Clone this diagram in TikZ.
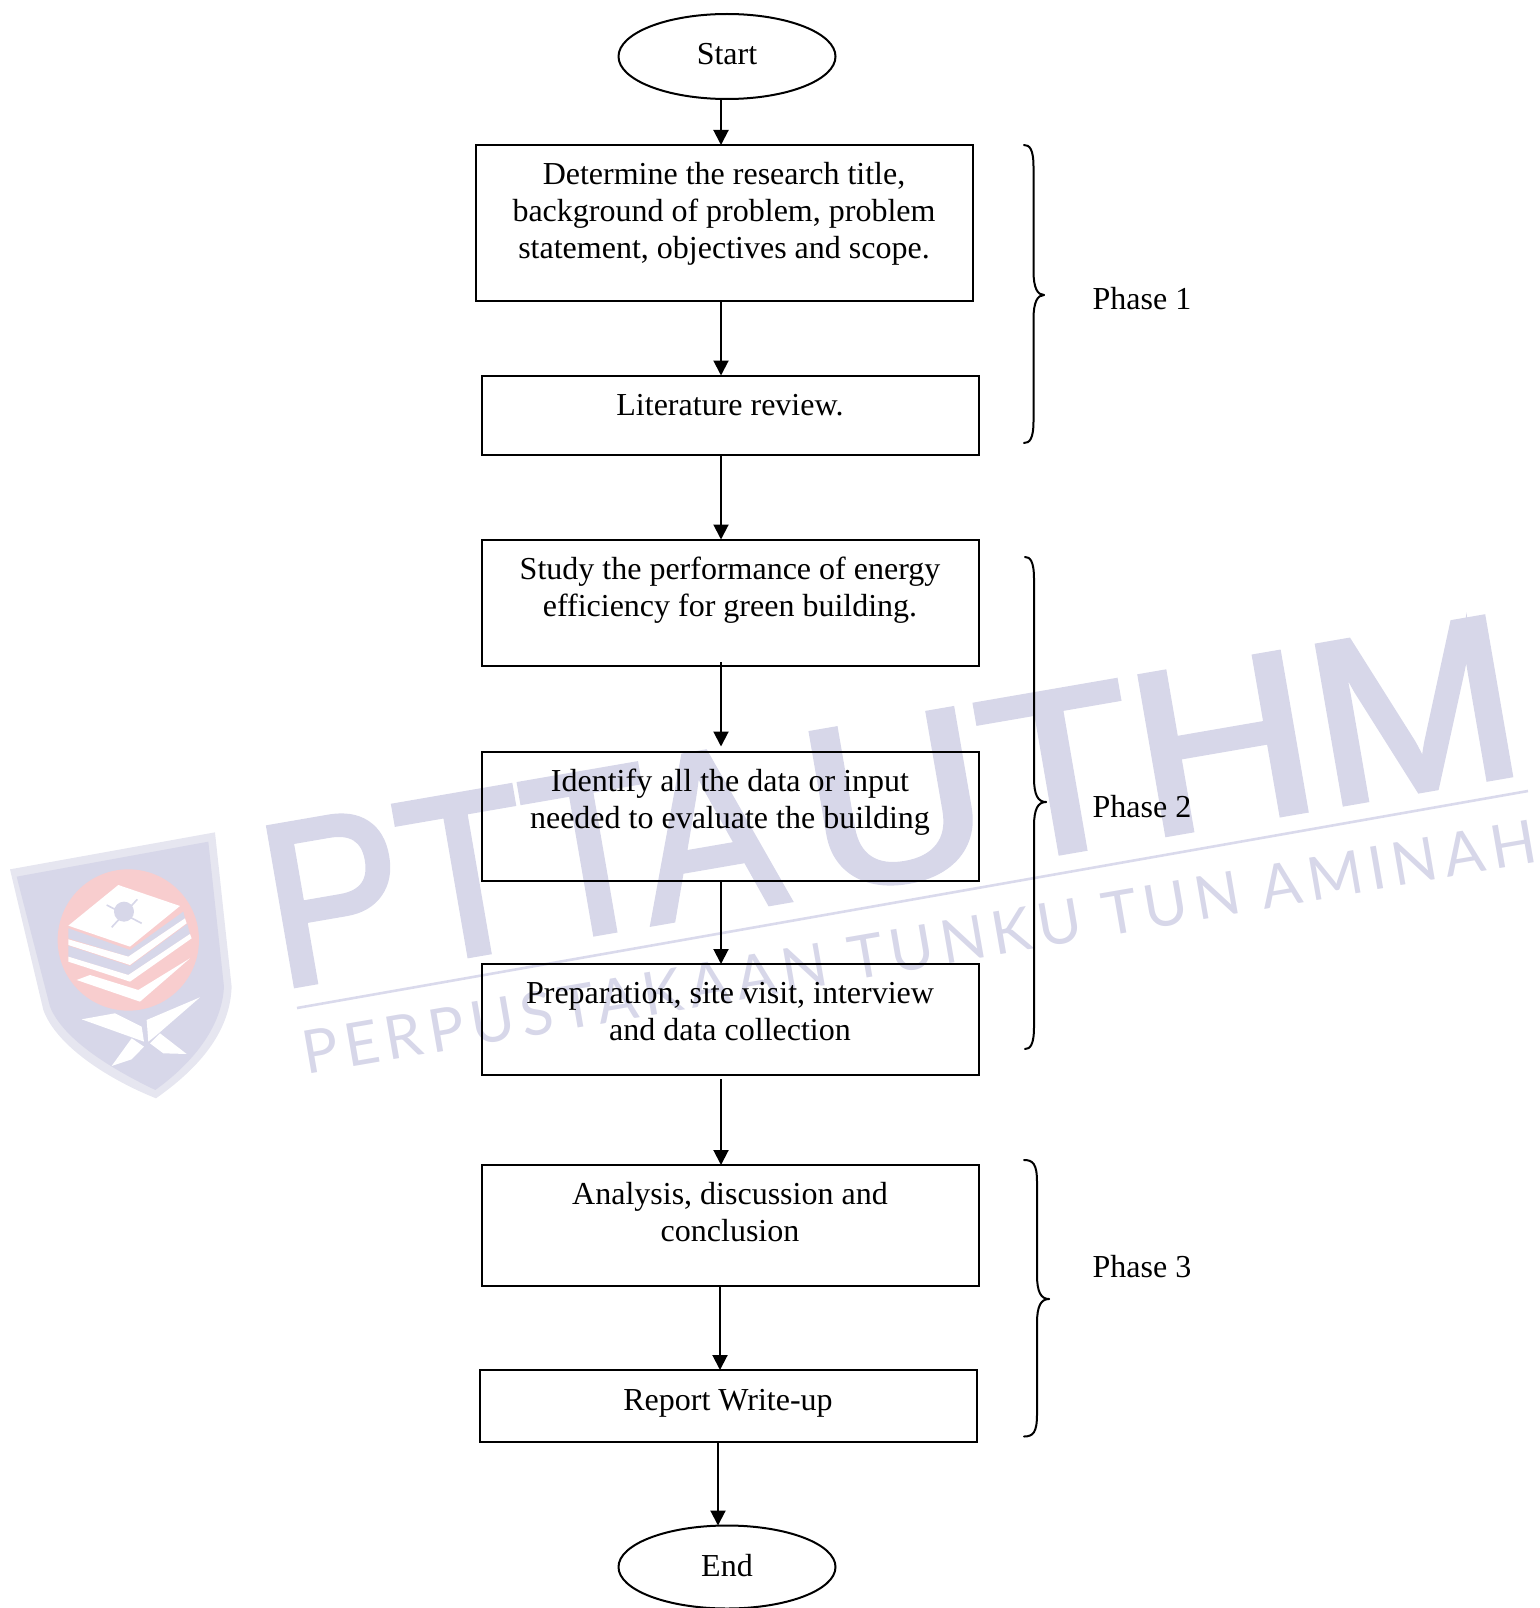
\documentclass[tikz,border=0pt]{standalone}
\usepackage{fontspec}
\setmainfont{Liberation Serif}
\newfontfamily\wmfont[FakeBold=2.5]{Liberation Sans}
\newfontfamily\wmthin[LetterSpace=11]{Lato}
\usetikzlibrary{arrows.meta,shapes.geometric}
\definecolor{wm}{HTML}{D7D7E9}
\definecolor{wmline}{HTML}{DADAEC}
\definecolor{shieldedge}{HTML}{E6E6F0}
\definecolor{shieldred}{HTML}{F8CDCE}
\tikzset{
  boxstyle/.style={draw=black,line width=2pt,anchor=north west,inner sep=0pt,outer sep=0pt},
  ovalstyle/.style={draw=black,line width=2pt,ellipse,inner sep=0pt,outer sep=0pt,minimum width=217pt},
  txt/.style={font=\fontsize{32}{37}\selectfont,align=center,inner sep=0pt},
  arr/.style={line width=2pt,-{Triangle[length=15pt,width=15pt]}},
  bracestyle/.style={line width=2pt,line cap=round},
  watermark/.style={font=\wmfont\fontsize{232}{232}\selectfont,text=wm,inner sep=0pt,rotate=9.8,anchor=base west},
  watermarksmall/.style={font=\wmthin\fontsize{60}{60}\selectfont,text=wm,inner sep=0pt,rotate=9.8,anchor=base west},
}
\newcommand{\phasebrace}[5]{% start x, spine x, tip x, top y, tip y
  \draw[bracestyle] (#1,#4) .. controls (#2-4,#4) and (#2,#4+4) .. (#2,#4+22)
    -- (#2,#5-24) .. controls (#2,#5-7) and (#2+4,#5) .. (#3,#5);
}
\newcommand{\phasebracelow}[5]{% start x, spine x, tip x, tip y, bottom y
  \draw[bracestyle] (#3,#4) .. controls (#2+4,#4) and (#2,#4+7) .. (#2,#4+24)
    -- (#2,#5-22) .. controls (#2,#5-4) and (#2-4,#5) .. (#1,#5);
}
\begin{document}
\begin{tikzpicture}[x=1pt,y=-1pt]
\useasboundingbox (0,0) rectangle (1539,1608);
% --- watermark ---
\node[watermark] (wmbiga) at (279,988) {\scalebox{0.90}[1]{PTTA}};
\node[watermark] (wmbigb) at (820,894) {\scalebox{1.075}[1]{UTHM}};
\draw[wmline,line width=2.6pt] (297,1008) -- (1528,791);
\node[watermarksmall] (wmsmall) at (306,1075) {PERPUSTAKAAN TUNKU TUN AMINAH};
\begin{scope}[shift={(0,780)},x=0.3333pt,y=-0.3333pt]
  \fill[shieldedge] (30,268) -- (645,157) -- (695,620) .. controls (690,780) and (560,890) .. (468,955)
     .. controls (330,900) and (170,800) .. (130,690) -- cycle;
  \fill[wm] (50,290) -- (625,185) -- (672,620) .. controls (665,760) and (550,870) .. (466,930)
     .. controls (340,870) and (190,780) .. (150,680) -- cycle;
  \fill[shieldred] (385,480) circle [radius=212];
  \fill[white] (355,315) -- (540,378) -- (390,500) -- (205,437) -- cycle;
  \fill[wm] (205,445) -- (390,510) -- (550,395) -- (555,415) -- (385,530) -- (205,475) -- cycle;
  \fill[white] (205,478) -- (385,530) -- (555,415) -- (560,430) -- (390,555) -- (205,495) -- cycle;
  \fill[wm] (205,497) -- (390,558) -- (562,432) -- (570,462) -- (385,585) -- (205,530) -- cycle;
  \fill[white] (205,530) -- (385,585) -- (570,462) -- (575,475) -- (390,605) -- (205,545) -- cycle;
  \fill[white] (230,600) -- (270,585) -- (415,630) -- (570,535) -- (420,665) -- cycle;
  \fill[wm] (372,395) circle [radius=30];
  \draw[wm,line width=1.6pt] (320,375) -- (425,430) (412,358) -- (335,442);
  \fill[white] (245,718) -- (345,700) -- (425,740) -- (432,785) -- cycle;
  \fill[white] (440,720) -- (600,652) -- (470,765) -- (445,785) -- cycle;
  \fill[white] (335,858) -- (395,775) -- (432,800) -- (395,838) -- cycle;
  \fill[white] (450,790) -- (480,760) -- (560,822) -- (490,820) -- cycle;
\end{scope}
% --- flow nodes ---
\node[ovalstyle,minimum height=85pt] (start) at (727,56.5) {};
\node[txt] (starttxt) at (727,54) {Start};
\node[boxstyle,minimum width=497pt,minimum height=156pt] (b1) at (476,145) {};
\node[txt] (b1txt) at (724,214) {Determine the research title,\\background of problem, problem\\statement, objectives and scope.};
\node[boxstyle,minimum width=497pt,minimum height=79.5pt] (b2) at (482,375.5) {};
\node[txt] (b2txt) at (730,405) {Literature review.};
\node[boxstyle,minimum width=497pt,minimum height=126.5pt] (b3) at (482,539.5) {};
\node[txt] (b3txt) at (730,590.5) {Study the performance of energy\\efficiency for green building.};
\node[boxstyle,minimum width=497pt,minimum height=129pt] (b4) at (482,751.5) {};
\node[txt] (b4txt) at (730,802) {Identify all the data or input\\needed to evaluate the building};
\node[boxstyle,minimum width=497pt,minimum height=111pt] (b5) at (482,964) {};
\node[txt] (b5txt) at (730,1012) {Preparation, site visit, interview\\and data collection};
\node[boxstyle,minimum width=497pt,minimum height=121pt] (b6) at (482,1165) {};
\node[txt] (b6txt) at (730,1212) {Analysis, discussion and\\conclusion};
\node[boxstyle,minimum width=497pt,minimum height=72pt] (b7) at (480,1370) {};
\node[txt] (b7txt) at (728,1403.5) {Report Write-up};
\node[ovalstyle,minimum height=83pt] (finish) at (727,1567) {};
\node[txt] (finishtxt) at (727,1566) {End};
% --- connectors ---
\coordinate (axa) at (721,0);
\coordinate (axb) at (720,0);
\coordinate (axc) at (718,0);
\draw[arr] (start.south -| axa) -- (b1.north -| axa);
\draw[arr] (b1.south -| axa) -- (b2.north -| axa);
\draw[arr] (b2.south -| axa) -- (b3.north -| axa);
\draw[arr] ([yshift=4pt]b3.south -| axa) -- ([yshift=5pt]b4.north -| axa);
\draw[arr] (b4.south -| axa) -- (b5.north -| axa);
\draw[arr] ([yshift=-4pt]b5.south -| axa) -- (b6.north -| axa);
\draw[arr] (b6.south -| axb) -- (b7.north -| axb);
\draw[arr] (b7.south -| axc) -- (finish.north -| axc);
% --- braces ---
\phasebrace{1024}{1033.5}{1044}{145}{295}
\phasebracelow{1024}{1033.5}{1044}{295}{443}
\phasebrace{1025}{1034}{1046}{557}{802}
\phasebracelow{1025}{1034}{1046}{802}{1049}
\phasebrace{1024}{1037}{1049}{1160}{1299}
\phasebracelow{1024}{1037}{1049}{1299}{1436.5}
\node[txt] (p1) at (1142,299) {Phase 1};
\node[txt] (p2) at (1142,807) {Phase 2};
\node[txt] (p3) at (1142,1267) {Phase 3};
\end{tikzpicture}
\end{document}
